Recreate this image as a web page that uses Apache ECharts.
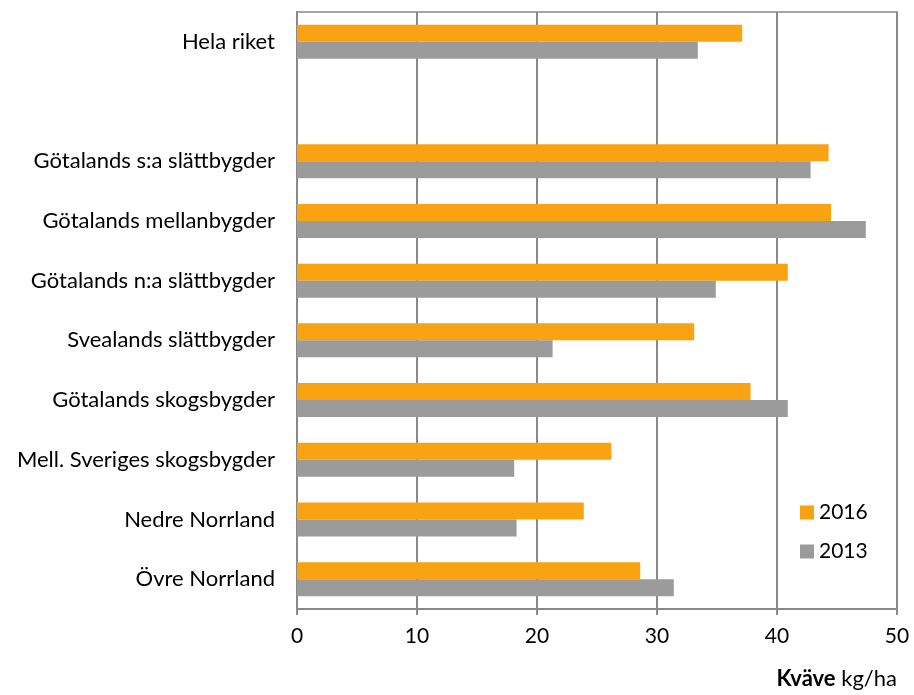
<!DOCTYPE html>
<html>
<head>
<meta charset="utf-8">
<script src="https://cdn.jsdelivr.net/npm/echarts@6/dist/echarts.min.js"></script>
<style>
  html, body { margin: 0; padding: 0; background: #fff; }
  #chart { width: 914px; height: 695px; }
</style>
</head>
<body>
<div id="chart"></div>
<script>
// Regions, top to bottom (the empty entry leaves a gap below the national total)
const categories = [
  'Hela riket',
  '',
  'Götalands s:a slättbygder',
  'Götalands mellanbygder',
  'Götalands n:a slättbygder',
  'Svealands slättbygder',
  'Götalands skogsbygder',
  'Mell. Sveriges skogsbygder',
  'Nedre Norrland',
  'Övre Norrland'
];

// Nitrogen, kg/ha
const values2016 = [37.1, null, 44.3, 44.5, 40.9, 33.1, 37.8, 26.2, 23.9, 28.6];
const values2013 = [33.4, null, 42.8, 47.4, 34.9, 21.3, 40.9, 18.1, 18.3, 31.4];

const xTicks = [0, 10, 20, 30, 40, 50];

const FONT = 'Lato, "Open Sans", sans-serif';
const GRID_COLOR = '#8a8a8a';

const chart = echarts.init(document.getElementById('chart'));
chart.setOption({
  animation: false,
  backgroundColor: '#ffffff',
  grid: {
    left: 297, right: 17, top: 12, bottom: 86,
    show: true, borderColor: '#a6a6a6', borderWidth: 2, backgroundColor: 'transparent'
  },
  legend: {
    orient: 'vertical',
    left: 795, top: 497,
    itemWidth: 14, itemHeight: 14, itemGap: 18,
    icon: 'rect',
    textStyle: { fontFamily: FONT, fontSize: 21, color: '#000' },
    data: ['2016', '2013']
  },
  xAxis: {
    type: 'value',
    min: xTicks[0], max: xTicks[xTicks.length - 1], interval: 10,
    axisLine: { show: true, lineStyle: { color: GRID_COLOR, width: 2 } },
    axisTick: { show: true, length: 6, lineStyle: { color: GRID_COLOR, width: 2 } },
    splitLine: { show: true, lineStyle: { color: GRID_COLOR, width: 2 } },
    axisLabel: { fontFamily: FONT, fontSize: 21, color: '#000', margin: 17 }
  },
  yAxis: {
    type: 'category',
    inverse: true,
    data: categories,
    axisLine: { show: true, lineStyle: { color: GRID_COLOR, width: 2 } },
    axisTick: { show: false },
    axisLabel: { fontFamily: FONT, fontSize: 22, color: '#000', margin: 22 }
  },
  graphic: [{
    type: 'text',
    right: 17, top: 668,
    style: {
      text: '{b|Kväve} kg/ha',
      rich: {
        b: { fontFamily: FONT, fontSize: 22, fontWeight: 'bold', fill: '#000' }
      },
      fontFamily: FONT, fontSize: 22, fill: '#000'
    }
  }],
  series: [
    {
      name: '2016', type: 'bar', data: values2016,
      itemStyle: { color: '#faa312' },
      barGap: '0%', barCategoryGap: '43%'
    },
    {
      name: '2013', type: 'bar', data: values2013,
      itemStyle: { color: '#9b9b9b' },
      barGap: '0%', barCategoryGap: '43%'
    }
  ]
});
</script>
</body>
</html>
